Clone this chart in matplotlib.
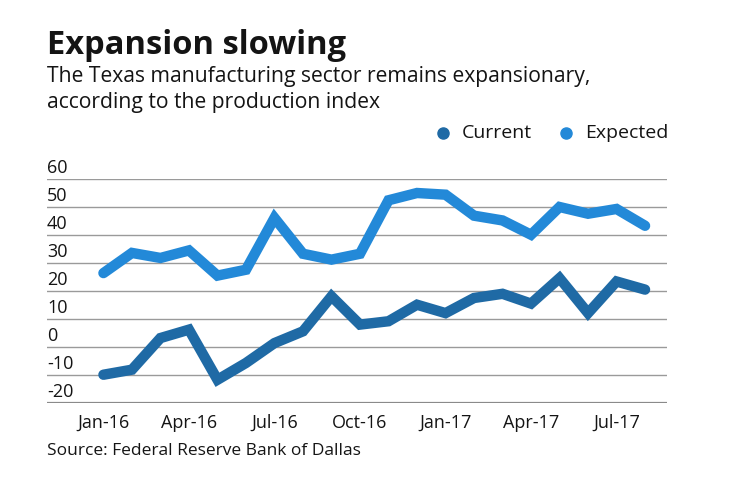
import numpy as np
import matplotlib
matplotlib.use('Agg')
import matplotlib.pyplot as plt
import matplotlib.transforms as mtransforms

plt.rcParams['font.family'] = ['Open Sans', 'DejaVu Sans']

months = ['Jan-16', 'Feb-16', 'Mar-16', 'Apr-16', 'May-16', 'Jun-16', 'Jul-16',
          'Aug-16', 'Sep-16', 'Oct-16', 'Nov-16', 'Dec-16', 'Jan-17', 'Feb-17',
          'Mar-17', 'Apr-17', 'May-17', 'Jun-17', 'Jul-17', 'Aug-17']
current = [-9.9, -8.1, 3.2, 6.2, -11.7, -5.7, 1.4, 5.6, 18.1, 8.0,
           9.2, 15.1, 12.1, 17.5, 19.0, 15.5, 24.6, 12.1, 23.4, 20.5]
expected = [26.4, 33.6, 31.8, 34.5, 25.5, 27.6, 46.1, 33.3, 31.2, 33.3,
            52.4, 55.0, 54.4, 46.9, 45.2, 40.1, 50.0, 47.6, 49.3, 43.3]
y_ticks = [60, 50, 40, 30, 20, 10, 0, -10, -20]
x_tick_idx = [0, 3, 6, 9, 12, 15, 18]

c_current = '#1f6aa5'
c_expected = '#2389d8'
text_color = '#141414'

W, H = 740, 482
fig = plt.figure(figsize=(W / 100, H / 100), dpi=100)
ax = fig.add_axes([47 / W, (H - 403) / H, (667 - 47) / W, (403 - 179) / H])

x = np.arange(len(months))
for v in y_ticks[:-1]:
    ax.axhline(v, color='#9a9a9a', linewidth=1.0, zorder=1)
ax.axhline(-20, color='#8a8a8a', linewidth=1.6, zorder=1)

ax.plot(x, current, color=c_current, linewidth=7.5, solid_joinstyle='miter',
        solid_capstyle='round', zorder=3)
ax.plot(x, expected, color=c_expected, linewidth=7.5, solid_joinstyle='miter',
        solid_capstyle='round', zorder=3)

ax.set_xlim(-1.98, 19.77)
ax.set_ylim(-20, 60)
for s in ax.spines.values():
    s.set_visible(False)
ax.set_yticks([])
ax.set_xticks(x[x_tick_idx])
ax.set_xticklabels([months[i] for i in x_tick_idx], fontsize=13, color=text_color)
ax.tick_params(axis='x', length=0, pad=8)

trans = mtransforms.blended_transform_factory(ax.transAxes, ax.transData)
for v in y_ticks:
    ax.text(0, v + 0.8, str(v), transform=trans, ha='left', va='bottom',
            fontsize=13, color=text_color, clip_on=False)

fig.text(47 / W, 1 - 54 / H, 'Expansion slowing', fontsize=23.5, fontweight='bold',
         color=text_color, ha='left', va='baseline')
fig.text(47 / W, 1 - 82 / H, 'The Texas manufacturing sector remains expansionary,',
         fontsize=15.2, color=text_color, ha='left', va='baseline')
fig.text(47 / W, 1 - 108 / H, 'according to the production index',
         fontsize=15.2, color=text_color, ha='left', va='baseline')

# legend
for dx, label, col in [(443, 'Current', c_current), (566, 'Expected', c_expected)]:
    fig.add_artist(plt.Line2D([dx / W], [1 - 133 / H], marker='o', markersize=8,
                              color=col, linestyle='none', transform=fig.transFigure))
    fig.text((dx + 19) / W, 1 - 133 / H, label, fontsize=14, color=text_color,
             ha='left', va='center')

fig.text(47 / W, 1 - 455 / H, 'Source: Federal Reserve Bank of Dallas',
         fontsize=12.5, color=text_color, ha='left', va='baseline')

fig.savefig('out.png', dpi=100)
